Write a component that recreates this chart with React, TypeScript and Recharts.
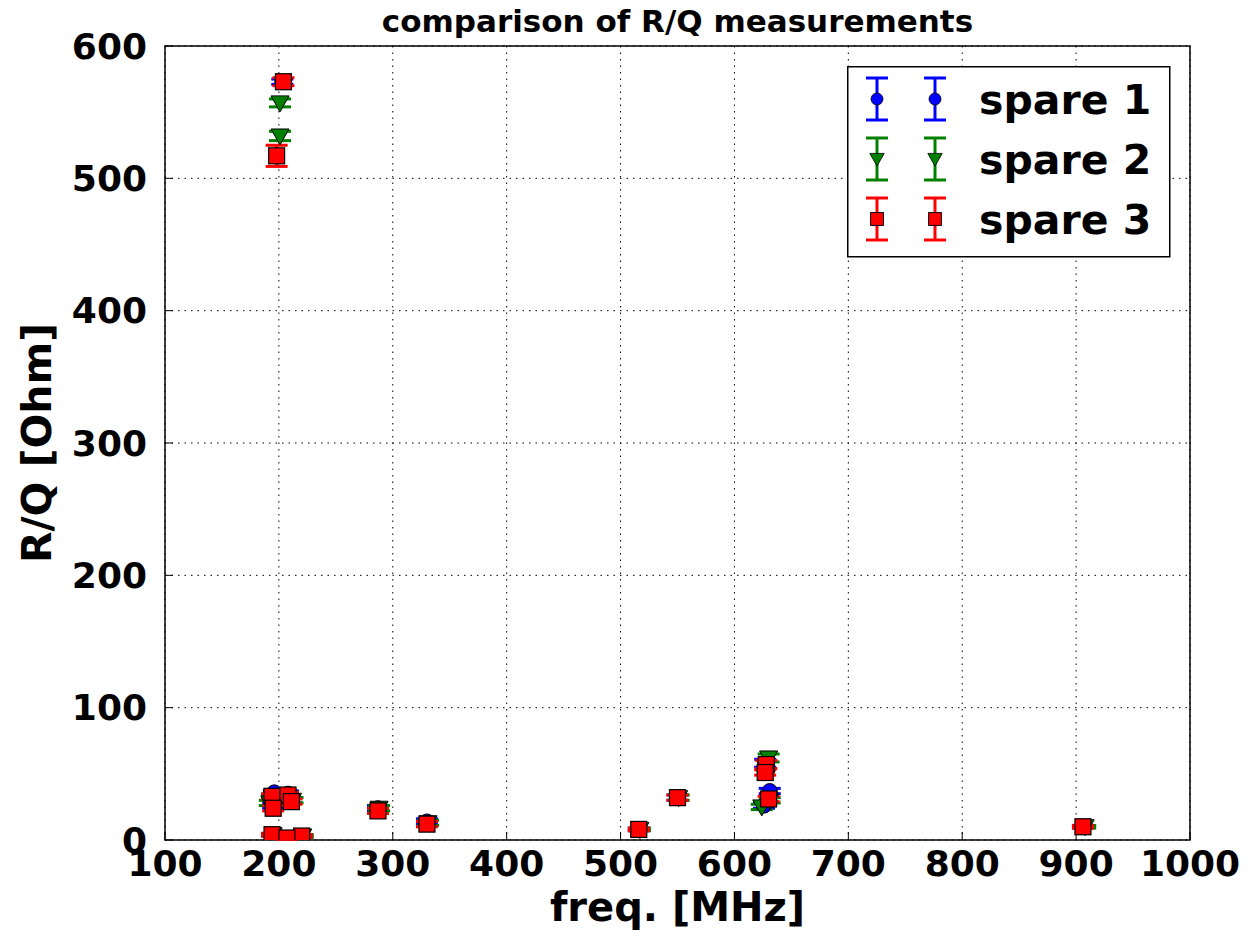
import React from 'react'
import {
  ScatterChart,
  Scatter,
  XAxis,
  YAxis,
  CartesianGrid,
  ErrorBar,
  ReferenceArea,
  Legend,
} from 'recharts'

// spare 1 (blue circles)
const freq1 = [203, 196, 208, 195, 211, 194, 220, 287, 330, 516, 550, 627, 631, 626, 906]
const rq1 = [573, 36, 35, 26, 30, 4, 3, 24, 14, 8, 32, 58, 37, 26, 10]
const err1 = [2, 2, 2, 2, 2, 1, 1, 2, 2, 1, 2, 3, 2, 2, 1]

// spare 2 (green triangles)
const freq2 = [201, 201, 194, 208, 192, 212, 195, 221, 288, 331, 517, 551, 630, 631, 624, 908]
const rq2 = [557, 532, 32, 33, 28, 30, 4, 3, 24, 13, 8, 32, 62, 30, 25, 10]
const err2 = [3, 3.5, 2, 2, 2, 2, 1, 1, 2, 2, 1, 2, 3, 2, 2, 1]

// spare 3 (red squares)
const freq3 = [204, 198, 194, 208, 195, 211, 194, 220, 207, 287, 330, 516, 550, 628, 627, 630, 906]
const rq3 = [573, 517, 33, 34, 24, 29, 4, 3, 1.5, 22, 12, 8, 32, 57, 51, 31, 10]
const err3 = [3, 8, 2, 2, 2, 2, 1, 1, 1, 2, 2, 1, 2, 3, 2, 2, 1]

const xTicks = [100, 200, 300, 400, 500, 600, 700, 800, 900, 1000]
const yTicks = [0, 100, 200, 300, 400, 500, 600]

const FONT = '"DejaVu Sans", sans-serif'

const toRows = (f: number[], v: number[], e: number[]) =>
  f.map((x, i) => ({ f: x, rq: v[i], err: e[i] }))

const Circle = (p: any) => (
  <circle cx={p.cx} cy={p.cy} r={7.5} fill="#0000ff" stroke="#000" strokeWidth={1} />
)
const TriDown = (p: any) => (
  <polygon
    points={`${p.cx - 9},${p.cy - 7} ${p.cx + 9},${p.cy - 7} ${p.cx},${p.cy + 9}`}
    fill="#008000"
    stroke="#000"
    strokeWidth={1}
  />
)
const Square = (p: any) => (
  <rect x={p.cx - 8} y={p.cy - 8} width={16} height={16} fill="#ff0000" stroke="#000" strokeWidth={1.2} />
)

const series = [
  { name: 'spare 1', color: '#0000ff', shape: Circle, data: toRows(freq1, rq1, err1) },
  { name: 'spare 2', color: '#008000', shape: TriDown, data: toRows(freq2, rq2, err2) },
  { name: 'spare 3', color: '#ff0000', shape: Square, data: toRows(freq3, rq3, err3) },
]

const LegendBox = () => (
  <svg width={324} height={192} style={{ display: 'block' }}>
    <rect x={0.75} y={0.75} width={322} height={190} fill="#fff" stroke="#000" strokeWidth={1.5} />
    {series.map((s, i) => {
      const cy = 33 + i * 60
      const Shape = s.shape
      return (
        <g key={s.name}>
          {[30, 88].map((cx) => (
            <g key={cx}>
              <line x1={cx} y1={cy - 21} x2={cx} y2={cy + 21} stroke={s.color} strokeWidth={3} />
              <line x1={cx - 11} y1={cy - 21} x2={cx + 11} y2={cy - 21} stroke={s.color} strokeWidth={3} />
              <line x1={cx - 11} y1={cy + 21} x2={cx + 11} y2={cy + 21} stroke={s.color} strokeWidth={3} />
              <g transform={`translate(${cx},${cy}) scale(0.8) translate(${-cx},${-cy})`}>
                <Shape cx={cx} cy={cy} />
              </g>
            </g>
          ))}
          <text x={132} y={cy + 15} fontFamily={FONT} fontWeight="bold" fontSize={41} fill="#000">
            {s.name}
          </text>
        </g>
      )
    })}
  </svg>
)

export default function App() {
  return (
    <div style={{ position: 'absolute', left: 0, top: 0, width: 1252, height: 939, background: '#fff' }}>
      <div
        style={{
          position: 'absolute',
          left: 165,
          width: 1025,
          top: 3,
          textAlign: 'center',
          fontFamily: FONT,
          fontWeight: 'bold',
          fontSize: 31,
          color: '#000',
        }}
      >
        comparison of R/Q measurements
      </div>
      <ScatterChart width={1252} height={939} margin={{ top: 45, right: 61, bottom: 0, left: 0 }}>
        <CartesianGrid stroke="#000" strokeDasharray="1.5 5" strokeWidth={1} />
        <XAxis
          type="number"
          dataKey="f"
          domain={[100, 1000]}
          ticks={xTicks}
          allowDataOverflow
          height={99}
          tickSize={-8}
          tickMargin={18}
          axisLine={false}
          tickLine={{ stroke: '#000', strokeWidth: 1 }}
          tick={{ fontSize: 36, fontWeight: 'bold', fill: '#000', fontFamily: FONT }}
          label={{
            value: 'freq. [MHz]',
            position: 'insideBottom',
            offset: 18,
            style: { fontSize: 40, fontWeight: 'bold', fill: '#000', fontFamily: FONT },
          }}
        />
        <XAxis
          xAxisId="top"
          orientation="top"
          type="number"
          domain={[100, 1000]}
          ticks={xTicks}
          height={1}
          tickSize={-8}
          tick={false}
          axisLine={false}
          tickLine={{ stroke: '#000', strokeWidth: 1 }}
        />
        <YAxis
          type="number"
          dataKey="rq"
          domain={[0, 600]}
          ticks={yTicks}
          allowDataOverflow
          width={165}
          tickSize={-8}
          tickMargin={26}
          axisLine={false}
          tickLine={{ stroke: '#000', strokeWidth: 1 }}
          tick={{ fontSize: 36, fontWeight: 'bold', fill: '#000', fontFamily: FONT }}
          label={{
            value: 'R/Q [Ohm]',
            angle: -90,
            position: 'insideLeft',
            offset: 36,
            style: { fontSize: 41, fontWeight: 'bold', fill: '#000', fontFamily: FONT, textAnchor: 'middle' },
          }}
        />
        <YAxis
          yAxisId="right"
          orientation="right"
          type="number"
          domain={[0, 600]}
          ticks={yTicks}
          width={1}
          tickSize={-8}
          tick={false}
          axisLine={false}
          tickLine={{ stroke: '#000', strokeWidth: 1 }}
        />
        {series.map((s) => (
          <Scatter
            key={s.name}
            name={s.name}
            data={s.data}
            shape={s.shape}
            isAnimationActive={false}
          >
            <ErrorBar dataKey="err" direction="y" width={11} stroke={s.color} strokeWidth={3} />
          </Scatter>
        ))}
        <ReferenceArea x1={100} x2={1000} y1={0} y2={600} fill="none" stroke="#000" strokeWidth={1.5} />
        <Legend
          layout="horizontal"
          verticalAlign="middle"
          align="center"
          wrapperStyle={{ left: 847, top: 66, width: 324, height: 192 }}
          content={() => <LegendBox />}
        />
      </ScatterChart>
    </div>
  )
}
